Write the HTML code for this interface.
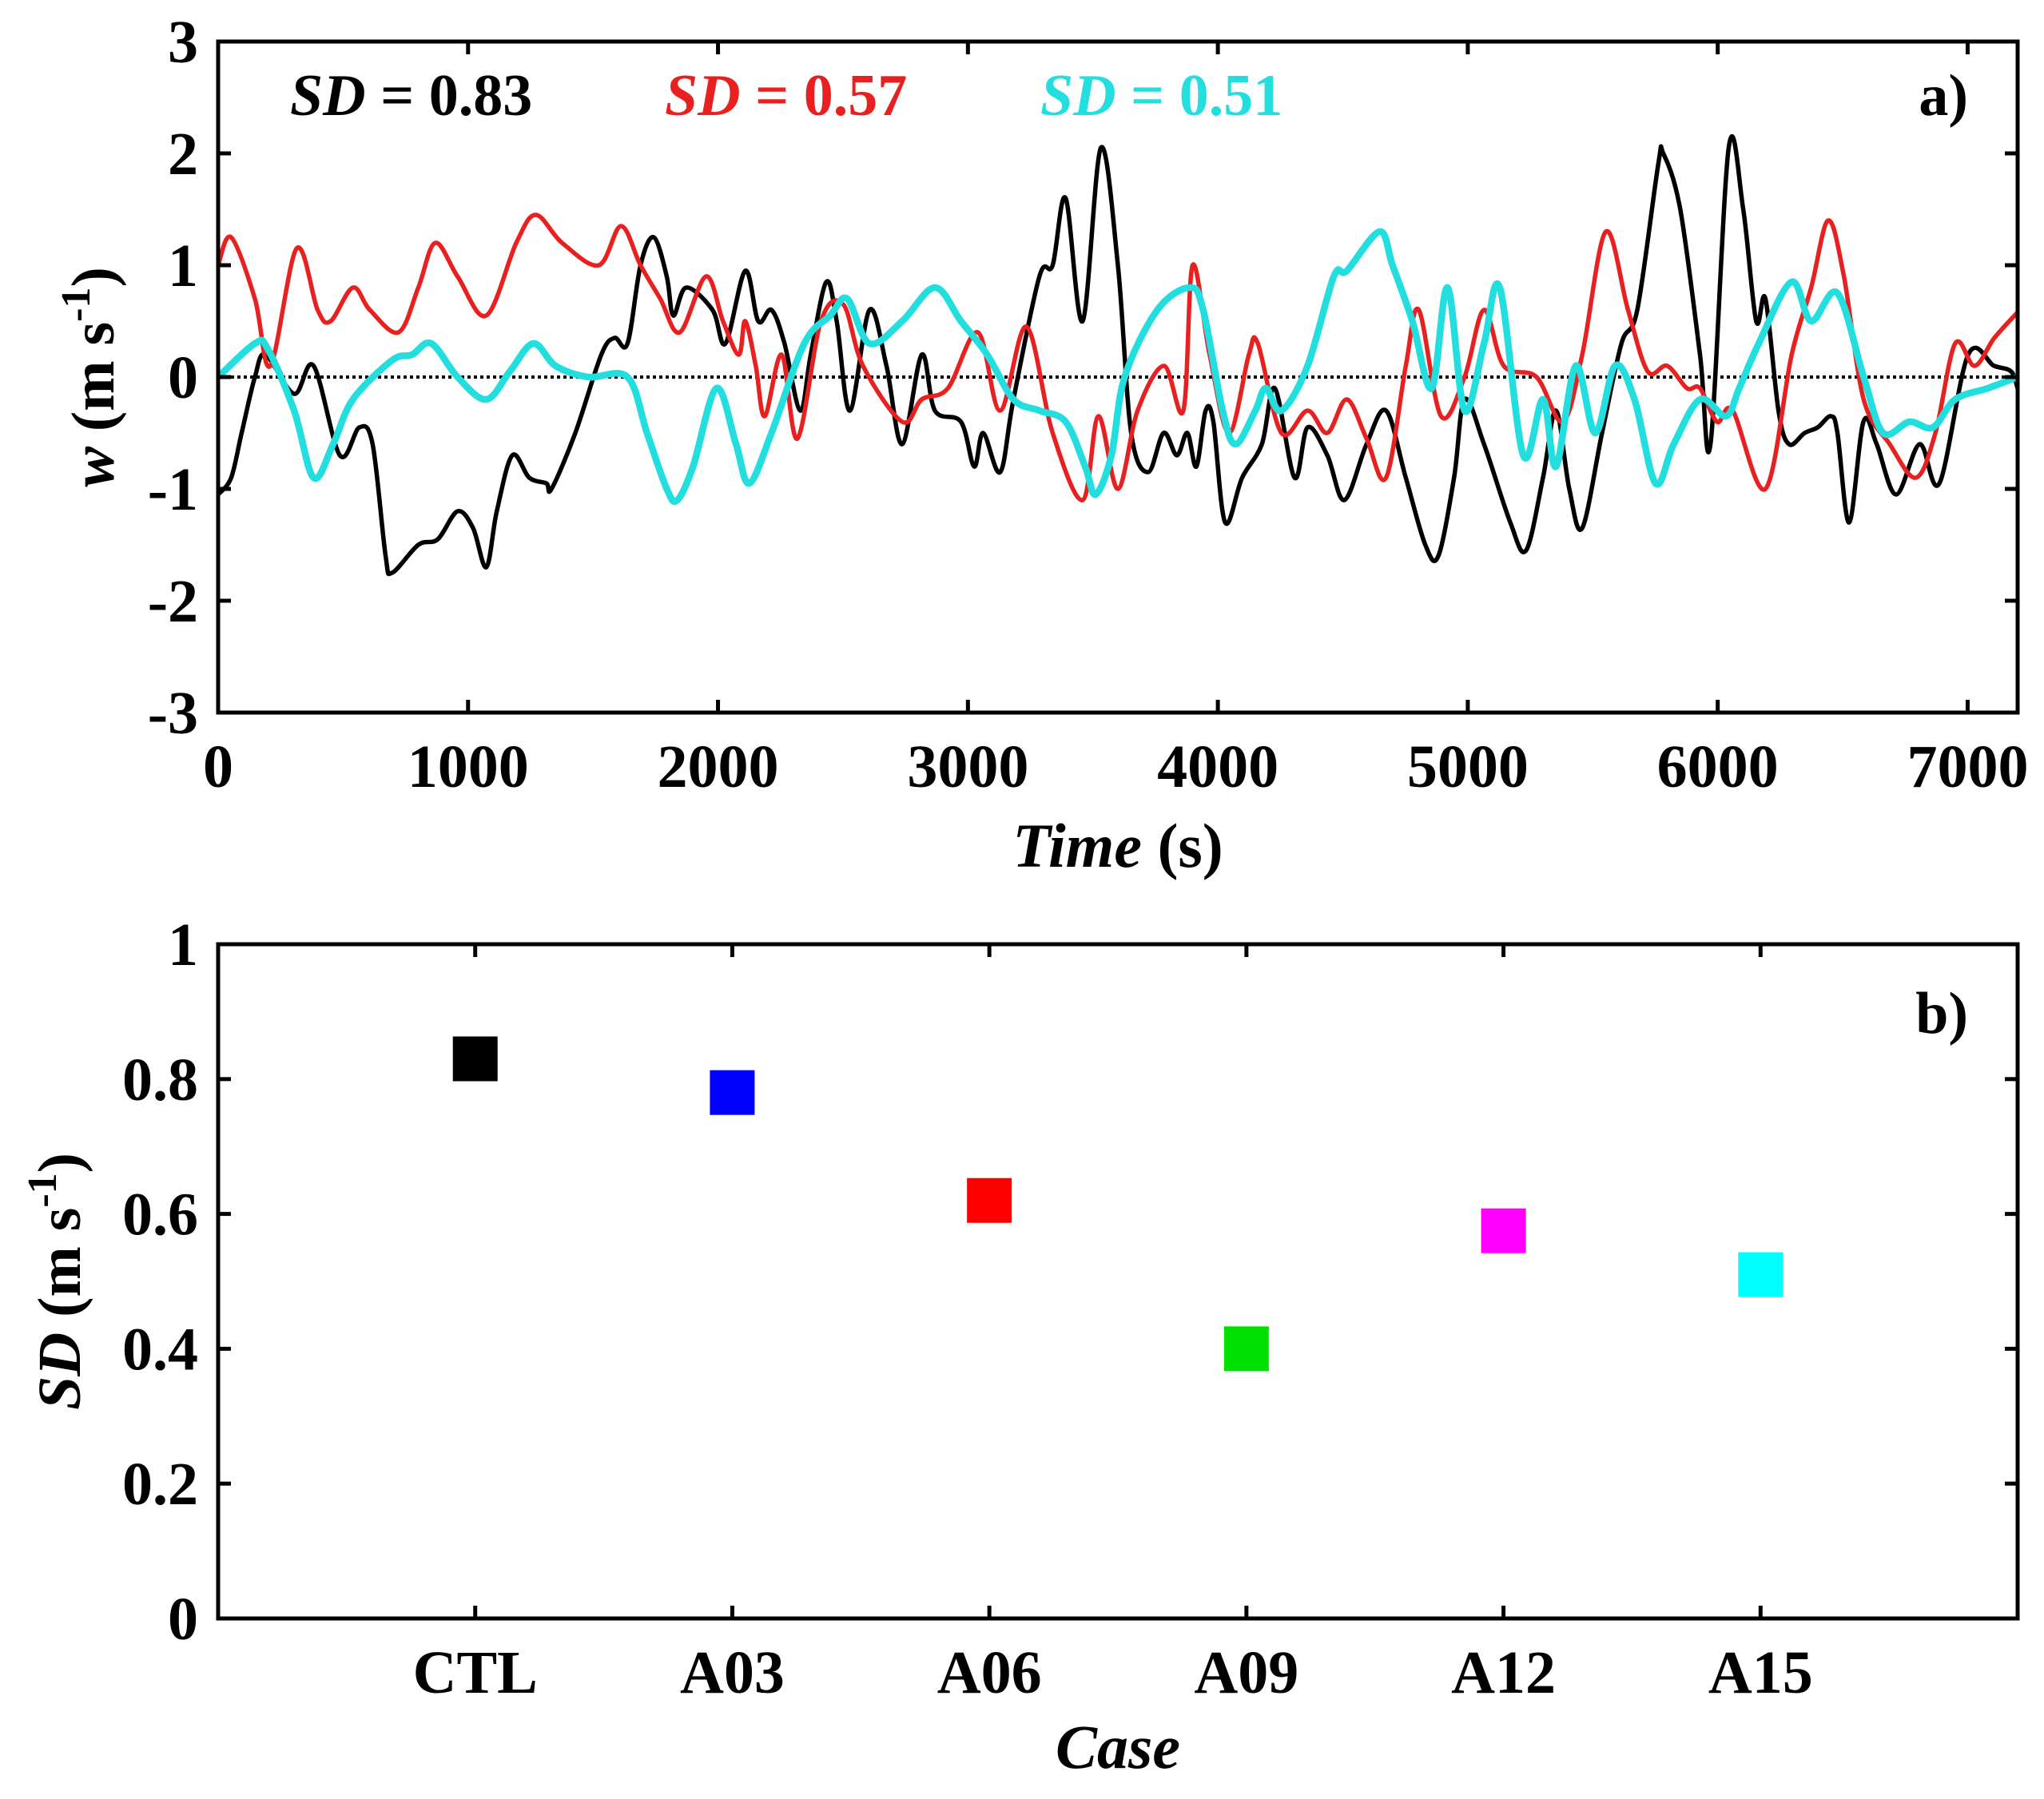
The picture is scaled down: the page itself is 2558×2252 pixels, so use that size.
<!DOCTYPE html>
<html><head><meta charset="utf-8"><style>
html,body{margin:0;padding:0;background:#fff;}
svg{display:block;font-family:"Liberation Serif",serif;font-weight:bold;}
</style></head><body>
<svg id="fig" width="2558" height="2252" viewBox="0 0 2558 2252" xmlns="http://www.w3.org/2000/svg"></svg>
<script>
// ---- Panel a data ----
const blackT=[0,52,94,147,190,304,382,487,565,618,670,696,801,879,958,1020,1073,1115,1177,1245,1313,1334,1429,1533,1586,1638,1690,1743,1795,1821,1873,1978,2030,2109,2161,2214,2266,2329,2371,2433,2475,2528,2606,2674,2737,2815,2868,2972,3025,3061,3129,3182,3286,3339,3391,3459,3532,3600,3653,3721,3783,3836,3878,3914,3951,3982,4029,4097,4176,4228,4307,4359,4438,4506,4595,4673,4752,4830,4882,4945,4987,5065,5170,5233,5301,5353,5406,5458,5537,5615,5678,5762,5782,5850,5929,5971,6044,6102,6154,6191,6243,6285,6348,6400,6453,6479,6526,6583,6636,6714,6808,6887,7002,7106,7174,7200];
const blackW=[-1.05,-0.9,-0.5,0.0,0.2,-0.15,0.1,-0.7,-0.45,-0.6,-1.6,-1.75,-1.5,-1.45,-1.2,-1.35,-1.7,-1.2,-0.7,-0.9,-0.95,-1.0,-0.5,0.2,0.35,0.3,1.0,1.25,0.9,0.55,0.8,0.6,0.3,0.95,0.5,0.6,0.3,-0.3,0.2,0.85,0.5,-0.3,0.6,0.1,-0.6,0.2,-0.3,-0.4,-0.8,-0.5,-0.85,-0.2,0.9,1.0,1.6,0.5,2.05,1.0,-0.5,-0.85,-0.5,-0.7,-0.5,-0.8,-0.3,-0.4,-1.3,-0.9,-0.6,-0.1,-0.9,-0.45,-0.7,-1.1,-0.6,-0.3,-0.9,-1.5,-1.6,-0.9,-0.2,-0.6,-1.3,-1.55,-0.9,-0.3,-1.0,-1.35,-0.5,0.3,0.6,1.9,2.0,1.5,0.2,-0.6,2.05,1.5,0.5,0.7,-0.3,-0.6,-0.5,-0.45,-0.35,-0.5,-1.3,-0.4,-0.6,-1.05,-0.6,-0.95,0.2,0.1,0.05,-0.1];
const redT=[0,52,147,209,314,398,450,539,607,722,801,869,958,1073,1193,1271,1376,1523,1612,1690,1769,1847,1952,2020,2083,2109,2151,2187,2255,2318,2412,2501,2580,2737,2815,2920,3040,3129,3234,3339,3459,3522,3600,3679,3784,3862,3899,3967,4045,4124,4160,4254,4359,4438,4516,4595,4673,4752,4804,4893,4987,5065,5144,5275,5380,5458,5552,5641,5720,5798,5877,5929,5997,6060,6191,6296,6374,6442,6505,6584,6688,6793,6871,6950,7028,7107,7200];
const redW=[1.0,1.25,0.7,0.1,1.15,0.6,0.5,0.8,0.6,0.4,0.8,1.2,0.9,0.55,1.2,1.45,1.2,1.0,1.35,1.0,0.7,0.4,0.9,0.5,0.2,0.5,0.1,-0.35,0.2,-0.55,0.5,0.65,0.1,-0.4,-0.2,-0.1,0.4,-0.3,0.45,-0.5,-1.1,-0.35,-1.0,-0.3,0.1,-0.3,1.0,0.2,-0.5,0.2,0.3,-0.5,-0.3,-0.5,-0.2,-0.55,-0.9,0.1,0.6,-0.35,0.0,0.6,0.1,0.0,-0.4,0.2,1.3,0.6,0.05,0.1,-0.1,-0.1,-0.4,-0.3,-1.0,0.2,0.8,1.4,0.9,-0.2,-0.6,-0.9,-0.5,0.3,0.1,0.35,0.58];
const cyanT=[0,147,199,304,382,460,539,696,775,853,958,1073,1167,1261,1350,1481,1638,1716,1795,1837,1900,1994,2072,2125,2214,2345,2449,2517,2606,2737,2868,2972,3077,3182,3286,3391,3469,3511,3574,3627,3758,3888,3941,4019,4071,4150,4192,4254,4359,4464,4516,4647,4699,4778,4856,4919,4987,5065,5128,5222,5301,5353,5432,5510,5589,5667,5751,5824,5929,6033,6086,6164,6295,6374,6479,6584,6662,6767,6861,6950,7081,7200];
const cyanW=[0,0.3,0.25,-0.3,-0.9,-0.6,-0.2,0.15,0.2,0.3,0.0,-0.2,0.05,0.3,0.1,0.0,0.0,-0.5,-1.0,-1.1,-0.8,-0.1,-0.6,-0.95,-0.5,0.3,0.55,0.7,0.3,0.5,0.8,0.5,0.2,-0.2,-0.3,-0.4,-0.8,-1.05,-0.7,0.0,0.6,0.8,0.6,-0.3,-0.6,-0.3,-0.1,-0.3,0.1,0.9,0.95,1.3,1.0,0.5,-0.1,0.8,-0.3,0.3,0.8,-0.7,-0.2,-0.8,0.1,-0.5,0.1,-0.2,-0.95,-0.6,-0.2,-0.35,-0.1,0.3,0.85,0.5,0.75,0.0,-0.5,-0.4,-0.45,-0.2,-0.1,0.0];
const xTicksA=[0,1000,2000,3000,4000,5000,6000,7000];
const yTicksA=[-3,-2,-1,0,1,2,3];
// ---- Panel b data ----
const cases=["CTL","A03","A06","A09","A12","A15"];
const sdValues=[0.83,0.78,0.62,0.40,0.575,0.51];
const caseColors=["#000000","#0000ff","#ff0000","#00e000","#ff00ff","#00ffff"];
const yTicksB=[0,0.2,0.4,0.6,0.8,1];

const NS="http://www.w3.org/2000/svg";
const svg=document.getElementById('fig');
function mk(tag,attrs,parent){const e=document.createElementNS(NS,tag);for(const k in attrs)e.setAttribute(k,attrs[k]);(parent||svg).appendChild(e);return e;}

const L=273,R=2525;
const aTop=52,aBot=892;
const xA=t=>L+(t/7200)*(R-L);
const yA=v=>aTop+(3-v)/6*(aBot-aTop);
const bTop=1182,bBot=2026;
const xB=i=>L+(i+1)/7*(R-L);
const yB=v=>bTop+(1-v)*(bBot-bTop);

function smoothPath(xs,ys){
  let d=`M${xs[0]},${ys[0]}`;
  for(let i=0;i<xs.length-1;i++){
    const x0=xs[Math.max(i-1,0)],y0=ys[Math.max(i-1,0)];
    const x1=xs[i],y1=ys[i],x2=xs[i+1],y2=ys[i+1];
    const x3=xs[Math.min(i+2,xs.length-1)],y3=ys[Math.min(i+2,xs.length-1)];
    const c1x=x1+(x2-x0)/6,c1y=y1+(y2-y0)/6,c2x=x2-(x3-x1)/6,c2y=y2-(y3-y1)/6;
    d+=` C${c1x.toFixed(1)},${c1y.toFixed(1)} ${c2x.toFixed(1)},${c2y.toFixed(1)} ${x2.toFixed(1)},${y2.toFixed(1)}`;
  }
  return d;
}

// ===== Panel a =====
const gA=mk('g',{});


const zl=mk('line',{x1:L,x2:R,y1:yA(0),y2:yA(0),stroke:'#000','stroke-width':4,'stroke-dasharray':'4 4'},gA);



const series=[[blackT,blackW,'#000',5.5,'series-ctl'],[redT,redW,'#e82020',5.5,'series-a12'],[cyanT,cyanW,'#22dede',8.5,'series-a15']];
const clip=mk('clipPath',{id:'clipA'},gA);mk('rect',{x:L,y:aTop,width:R-L,height:aBot-aTop},clip);
series.forEach(s=>{
  const p=mk('path',{d:smoothPath(s[0].map(xA),s[1].map(yA)),fill:'none',stroke:s[2],'stroke-width':s[3],'stroke-linejoin':'round','clip-path':'url(#clipA)'},gA);
  
  
});
const frA=mk('rect',{x:L,y:aTop,width:R-L,height:aBot-aTop,fill:'none',stroke:'#000','stroke-width':5},gA);


xTicksA.forEach(t=>{
  mk('line',{x1:xA(t),x2:xA(t),y1:aBot,y2:aBot-16,stroke:'#000','stroke-width':5},gA);
  mk('line',{x1:xA(t),x2:xA(t),y1:aTop,y2:aTop+16,stroke:'#000','stroke-width':5},gA);
  const tx=mk('text',{x:xA(t),y:985,'font-size':76,'text-anchor':'middle'},gA);tx.textContent=t;
  
  
});
yTicksA.forEach(v=>{
  mk('line',{x1:L,x2:L+16,y1:yA(v),y2:yA(v),stroke:'#000','stroke-width':5},gA);
  mk('line',{x1:R,x2:R-16,y1:yA(v),y2:yA(v),stroke:'#000','stroke-width':5},gA);
  const tx=mk('text',{x:248,y:yA(v)+26,'font-size':76,'text-anchor':'end'},gA);tx.textContent=v;
  
  
});
</script>
<script>
(function(){
const NS="http://www.w3.org/2000/svg";const svg=document.getElementById('fig');
function mk(tag,attrs,parent){const e=document.createElementNS(NS,tag);for(const k in attrs)e.setAttribute(k,attrs[k]);(parent||svg).appendChild(e);return e;}
function html(el,h){el.innerHTML=h;}
let t;
t=mk('text',{x:363,y:144,'font-size':74});html(t,'<tspan font-style="italic">SD</tspan> = 0.83');

t=mk('text',{x:832,y:144,'font-size':74,fill:'#e82020'});html(t,'<tspan font-style="italic">SD</tspan> = 0.57');

t=mk('text',{x:1302,y:144,'font-size':74,fill:'#22dede'});html(t,'<tspan font-style="italic">SD</tspan> = 0.51');

t=mk('text',{x:2463,y:144,'font-size':74,'text-anchor':'end'});t.textContent='a)';

t=mk('text',{x:1399,y:1085,'font-size':78,'text-anchor':'middle'});html(t,'<tspan font-style="italic">Time</tspan> (s)');

t=mk('text',{x:0,y:0,'font-size':76,'text-anchor':'middle',transform:'translate(142,472) rotate(-90)'});
html(t,'<tspan font-style="italic">w</tspan> (m s<tspan dy="-30" font-size="52">-1</tspan><tspan dy="30">)</tspan>');

t=mk('text',{x:1399,y:2213,'font-size':78,'text-anchor':'middle','font-style':'italic'});t.textContent='Case';

t=mk('text',{x:0,y:0,'font-size':76,'text-anchor':'middle',transform:'translate(100,1604) rotate(-90)'});
html(t,'<tspan font-style="italic">SD</tspan> (m s<tspan dy="-30" font-size="52">-1</tspan><tspan dy="30">)</tspan>');

t=mk('text',{x:2463,y:1293,'font-size':74,'text-anchor':'end'});t.textContent='b)';

})();
</script>
<script>
const gB=mk('g',{});


const frB=mk('rect',{x:L,y:bTop,width:R-L,height:bBot-bTop,fill:'none',stroke:'#000','stroke-width':5},gB);


yTicksB.forEach(v=>{
  mk('line',{x1:L,x2:L+16,y1:yB(v),y2:yB(v),stroke:'#000','stroke-width':5},gB);
  mk('line',{x1:R,x2:R-16,y1:yB(v),y2:yB(v),stroke:'#000','stroke-width':5},gB);
  const tx=mk('text',{x:248,y:yB(v)+26,'font-size':76,'text-anchor':'end'},gB);tx.textContent=v;
  
  
});
cases.forEach((c,i)=>{
  mk('line',{x1:xB(i),x2:xB(i),y1:bBot,y2:bBot-16,stroke:'#000','stroke-width':5},gB);
  mk('line',{x1:xB(i),x2:xB(i),y1:bTop,y2:bTop+16,stroke:'#000','stroke-width':5},gB);
  const tx=mk('text',{x:xB(i),y:2119,'font-size':76,'text-anchor':'middle'},gB);tx.textContent=c;
  
  
  const s=56;
  const m=mk('rect',{x:xB(i)-s/2,y:yB(sdValues[i])-s/2,width:s,height:s,fill:caseColors[i]},gB);
  
  
});
</script>
</body></html>
